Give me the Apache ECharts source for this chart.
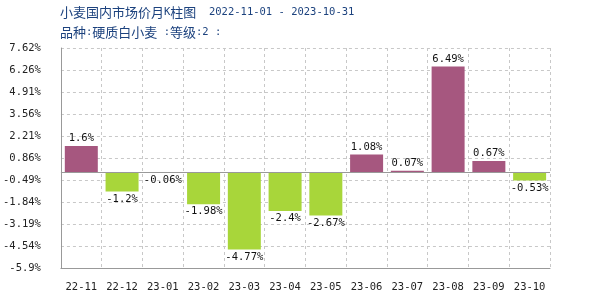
<!DOCTYPE html>
<html>
<head>
<meta charset="utf-8">
<script src="https://cdn.jsdelivr.net/npm/echarts@6/dist/echarts.min.js"></script>
<style>html,body{margin:0;padding:0;background:#fff}#c{width:600px;height:300px}</style>
</head>
<body>
<div id="c"></div>
<script>
var categories = ['22-11','22-12','23-01','23-02','23-03','23-04','23-05','23-06','23-07','23-08','23-09','23-10'];
var values = [1.6, -1.2, -0.06, -1.98, -4.77, -2.4, -2.67, 1.08, 0.07, 6.49, 0.67, -0.53];
var yTickLabels = ['-5.9','-4.54','-3.19','-1.84','-0.49','0.86','2.21','3.56','4.91','6.26','7.62'];
var titleMain = '小麦国内市场价月K柱图  2022-11-01 - 2023-10-31';
var titleSub = '品种:硬质白小麦 :等级:2 :';

var POS = '#a6577f', NEG = '#a8d63a';
var mono = 'DejaVu Sans Mono';
var tickVals = yTickLabels.map(function (s) { return parseFloat(s); });

// split text into CJK runs and ASCII runs for mixed-font rich text
function richify(s) {
  var runs = s.match(/[\u3000-\u9fff\uff00-\uffef]+|[^\u3000-\u9fff\uff00-\uffef]+/g) || [];
  return runs.map(function (r) {
    var cjk = /[\u3000-\u9fff\uff00-\uffef]/.test(r);
    return '{' + (cjk ? 'c' : 'm') + '|' + r + '}';
  }).join('');
}
var titleRich = {
  c: {fontFamily: 'Noto Sans CJK SC', fontSize: 13, fontWeight: 'normal', color: '#1c427e'},
  m: {fontFamily: mono, fontSize: 10.5, fontWeight: 'normal', color: '#1c427e'}
};

var chart = echarts.init(document.getElementById('c'), null, {renderer: 'canvas'});
chart.setOption({
  animation: false,
  backgroundColor: '#fff',
  title: [{
    left: 60, top: 6, padding: 0,
    text: richify(titleMain),
    textStyle: {fontWeight: 'normal', rich: titleRich}
  }, {
    left: 60, top: 26, padding: 0,
    text: richify(titleSub),
    textStyle: {fontWeight: 'normal', rich: titleRich}
  }],
  grid: {left: 60, right: 50, top: 48, bottom: 32},
  xAxis: {
    type: 'category',
    data: categories,
    axisLine: {onZero: false, lineStyle: {color: '#999', width: 1}},
    axisTick: {show: false},
    axisLabel: {interval: 0, fontFamily: mono, fontSize: 10.5, color: '#222', margin: 14},
    splitLine: {show: true, interval: 0, lineStyle: {type: [3, 3], color: '#c8c8c8'}}
  },
  yAxis: {
    type: 'value',
    min: tickVals[0], max: tickVals[tickVals.length - 1],
    axisLine: {show: true, lineStyle: {color: '#999', width: 1}},
    axisTick: {show: false, customValues: tickVals},
    axisLabel: {
      customValues: tickVals,
      fontFamily: mono, fontSize: 10.5, color: '#222', margin: 20,
      formatter: function (v) {
        var i = tickVals.indexOf(v);
        return (i >= 0 ? yTickLabels[i] : v) + '%';
      }
    },
    splitLine: {show: true, lineStyle: {type: [3, 3], color: '#c8c8c8'}}
  },
  series: [{
    type: 'bar',
    barWidth: 33,
    data: values.map(function (v) {
      return {
        value: v,
        itemStyle: {color: v >= 0 ? POS : NEG},
        label: {position: v >= 0 ? 'top' : 'bottom'}
      };
    }),
    label: {
      show: true,
      fontFamily: mono, fontSize: 10.5, color: '#111', distance: 2,
      formatter: function (p) { return p.value + '%'; }
    },
    markLine: {
      silent: true, symbol: 'none',
      label: {show: false},
      lineStyle: {type: 'solid', color: '#999', width: 1},
      data: [{yAxis: 0}]
    }
  }]
});
</script>
</body>
</html>
